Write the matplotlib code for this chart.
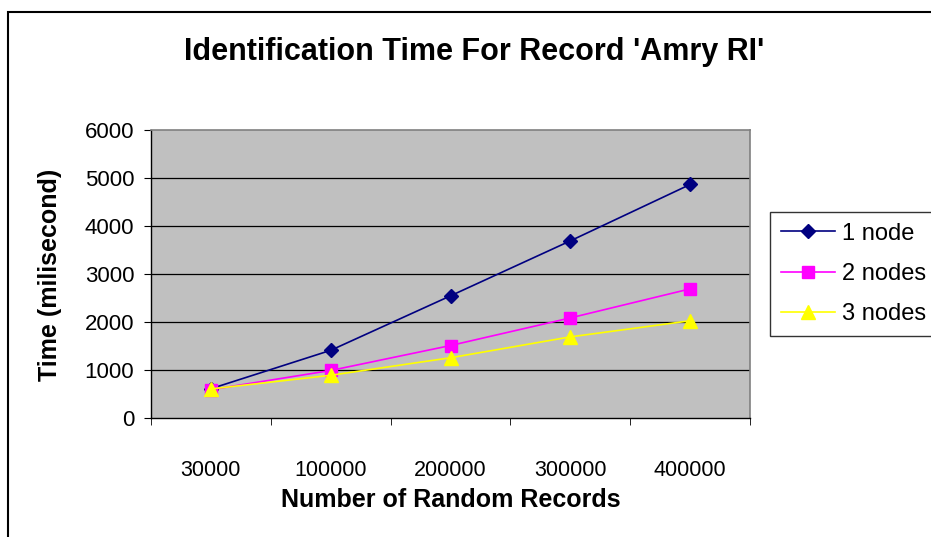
import matplotlib
matplotlib.use("Agg")
import matplotlib.pyplot as plt
from matplotlib.patches import Rectangle

plt.rcParams['font.family'] = ['Liberation Sans', 'DejaVu Sans']

# data
records = ['30000', '100000', '200000', '300000', '400000']
one_node = [610, 1410, 2545, 3690, 4865]
two_nodes = [590, 990, 1510, 2085, 2690]
three_nodes = [605, 890, 1255, 1690, 2025]
y_ticks = [0, 1000, 2000, 3000, 4000, 5000, 6000]

fig = plt.figure(figsize=(9.31, 5.37), dpi=100)
ax = fig.add_axes([151 / 931, 1 - 418 / 537, 599 / 931, 288 / 537])
ax.set_facecolor('#C0C0C0')

# outer chart frame (runs off the right and bottom edges)
fig.patches.append(Rectangle((8 / 931, -0.1), 1.2, 1 - 11.5 / 537 + 0.1,
                             transform=fig.transFigure, fill=False,
                             edgecolor='black', linewidth=1.5))

x = list(range(len(records)))
ax.plot(x, one_node, color='#000080', marker='D', markersize=7.5, linewidth=1.2, label='1 node')
ax.plot(x, two_nodes, color='#FF00FF', marker='s', markersize=8, linewidth=1.2, label='2 nodes')
ax.plot(x, three_nodes, color='#FFFF00', marker='^', markersize=9.5, linewidth=1.2, label='3 nodes')

ax.set_xlim(-0.5, len(records) - 0.5)
ax.set_ylim(0, 6000)
ax.set_yticks(y_ticks)
ax.set_yticklabels([str(v) for v in y_ticks], fontsize=16)
for v in y_ticks[1:-1]:
    ax.axhline(v, color='black', linewidth=0.9, zorder=1)

ax.set_xticks(x)
ax.set_xticklabels(records, fontsize=15.5)
ax.set_xticks([i - 0.5 for i in range(len(records) + 1)], minor=True)
ax.tick_params(axis='x', which='major', length=0, pad=30)
ax.tick_params(axis='x', which='minor', length=5, direction='out', color='black')
ax.tick_params(axis='y', length=5, direction='out', pad=7)

for side in ['left', 'bottom']:
    ax.spines[side].set_color('black')
    ax.spines[side].set_linewidth(1.0)
for side in ['top', 'right']:
    ax.spines[side].set_color('#808080')
    ax.spines[side].set_linewidth(1.2)

ax.set_xlabel('Number of Random Records', fontsize=18, fontweight='bold')
ax.xaxis.set_label_coords((451 - 151) / 599, (418 - 500) / 288)
ax.xaxis.label.set_va('center')
ax.set_ylabel('Time (milisecond)', fontsize=18, fontweight='bold')
ax.yaxis.set_label_coords((50 - 151) / 599, (418 - 275) / 288)
ax.yaxis.label.set_va('center')

fig.text(474 / 931, 1 - 52 / 537, "Identification Time For Record 'Amry RI'",
         fontsize=22, fontweight='bold', ha='center', va='center')

leg = fig.legend(loc='upper left', bbox_to_anchor=(770 / 931, 1 - 212 / 537),
                 fontsize=17, frameon=True, fancybox=False, edgecolor='black',
                 handlelength=2.3, handletextpad=0.3, labelspacing=0.78,
                 borderpad=0.45, borderaxespad=0)
leg.get_frame().set_linewidth(1.0)

fig.savefig('out.png', dpi=100)
